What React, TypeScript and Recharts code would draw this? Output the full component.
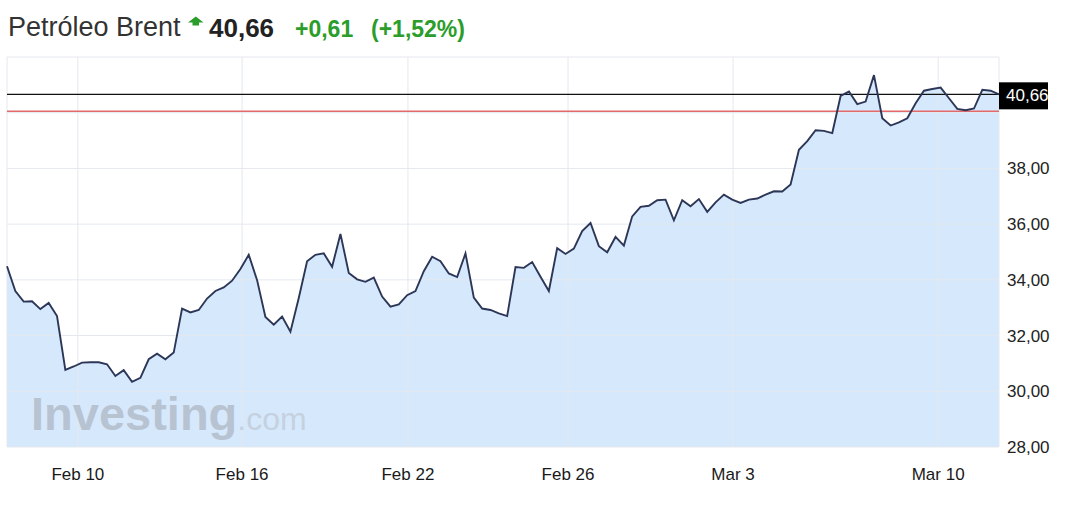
import {
  ComposedChart,
  Area,
  Line,
  XAxis,
  YAxis,
  CartesianGrid,
  ReferenceLine,
} from "recharts";

// Brent prices, ~5 samples per trading day, Feb 9 – Mar 11
const prices = [
  34.49, 33.6, 33.22, 33.23, 32.95, 33.17, 32.7, 30.77, 30.89, 31.03,
  31.04, 31.04, 30.97, 30.55, 30.76, 30.34, 30.48, 31.15, 31.35, 31.15,
  31.39, 32.97, 32.83, 32.92, 33.33, 33.6, 33.73, 33.97, 34.39, 34.9,
  33.99, 32.67, 32.39, 32.68, 32.14, 33.35, 34.67, 34.9, 34.95, 34.47,
  35.65, 34.25, 34.02, 33.93, 34.08, 33.4, 33.04, 33.12, 33.45, 33.6,
  34.31, 34.83, 34.67, 34.23, 34.1, 34.95, 33.36, 32.97, 32.92, 32.8,
  32.7, 34.46, 34.43, 34.64, 34.11, 33.6, 35.14, 34.93, 35.12, 35.75,
  36.04, 35.21, 34.99, 35.54, 35.23, 36.28, 36.62, 36.66, 36.86, 36.88,
  36.14, 36.86, 36.64, 36.9, 36.44, 36.78, 37.06, 36.88, 36.76, 36.88,
  36.92, 37.06, 37.18, 37.17, 37.42, 38.67, 38.98, 39.37, 39.35, 39.27,
  40.6, 40.76, 40.31, 40.4, 41.35, 39.8, 39.54, 39.65, 39.8, 40.34,
  40.79, 40.85, 40.9, 40.52, 40.14, 40.09, 40.15, 40.82, 40.79, 40.66,
];

const dateTicks = [8.5, 28.2, 48.1, 67.3, 87.1, 111.7];
const dateLabels = ["Feb 10", "Feb 16", "Feb 22", "Feb 26", "Mar 3", "Mar 10"];
const priceTicks = [28, 30, 32, 34, 36, 38, 40, 42];

const lastPrice = 40.66;
const prevClose = 40.05;
const change = "+0,61";
const changePct = "(+1,52%)";

const data = prices.map((v, i) => ({ i, v }));

const FONT = '"Liberation Sans", Arial, Helvetica, sans-serif';
const GREEN = "#2a9d2a";

const fmt = (v: number) => v.toFixed(2).replace(".", ",");

function PriceTag(props: any) {
  const vb = props.viewBox || {};
  const x = (vb.x ?? 0) + (vb.width ?? 0);
  const y = vb.y ?? 0;
  return (
    <g>
      <rect x={x} y={y - 12} width={49} height={27} fill="#000" />
      <text x={x + 7} y={y + 7} fill="#fff" fontSize={17} fontFamily={FONT}>
        {fmt(lastPrice)}
      </text>
    </g>
  );
}

export default function App() {
  return (
    <div
      style={{
        position: "absolute",
        left: 0,
        top: 0,
        width: 1080,
        height: 525,
        background: "#fff",
        fontFamily: FONT,
        overflow: "hidden",
      }}
    >
      <div style={{ position: "absolute", left: 0, top: 0 }}>
        <ComposedChart
          width={1080}
          height={525}
          data={data}
          margin={{ top: 57, right: 0, bottom: 0, left: 7 }}
        >
          <Area
            type="linear"
            dataKey="v"
            stroke="none"
            fill="#d6e8fc"
            fillOpacity={1}
            isAnimationActive={false}
          />
          <CartesianGrid stroke="#e4e8ee" zIndex={150} />
          <XAxis
            type="number"
            dataKey="i"
            domain={[0, prices.length - 1]}
            ticks={dateTicks}
            interval={0}
            tickFormatter={(v: number) => dateLabels[dateTicks.indexOf(v)] ?? ""}
            tickLine={false}
            axisLine={false}
            tickMargin={15}
            height={78}
            tick={{ fill: "#1a1a1a", fontSize: 17, fontFamily: FONT }}
          />
          <YAxis
            orientation="right"
            domain={[28, 42]}
            ticks={priceTicks}
            interval={0}
            width={81}
            tickLine={false}
            axisLine={false}
            tickFormatter={(v: number) => (v >= 40 ? "" : fmt(v))}
            tick={{ fill: "#222", fontSize: 17, fontFamily: FONT }}
          />
          <ReferenceLine y={prevClose} stroke="#e36a6a" strokeWidth={1.6} />
          <ReferenceLine
            y={lastPrice}
            stroke="#111"
            strokeWidth={1.3}
            label={(p: any) => <PriceTag {...p} />}
          />
          <Line
            type="linear"
            dataKey="v"
            stroke="#2c3657"
            strokeWidth={1.9}
            dot={false}
            activeDot={false}
            isAnimationActive={false}
          />
        </ComposedChart>
      </div>

      <svg
        width={1080}
        height={525}
        style={{ position: "absolute", left: 0, top: 0, pointerEvents: "none" }}
      >
        <text x={31} y={430} fontFamily={FONT}>
          <tspan fontSize={47} fontWeight={700} fill="#b8c3d2">
            Investing
          </tspan>
          <tspan fontSize={32} fill="#c5d1e0">
            .com
          </tspan>
        </text>
        <polygon
          points="195.8,16.5 203.5,22.5 199,22.5 199,25.5 192.5,25.5 192.5,22.5 188,22.5"
          fill={GREEN}
        />
      </svg>

      <span
        style={{
          position: "absolute",
          left: 8,
          top: 14.3,
          fontSize: 27,
          lineHeight: 1,
          color: "#333",
          whiteSpace: "nowrap",
        }}
      >
        Petróleo Brent
      </span>
      <span
        style={{
          position: "absolute",
          left: 209,
          top: 15.1,
          fontSize: 26,
          lineHeight: 1,
          fontWeight: 700,
          color: "#222",
        }}
      >
        {fmt(lastPrice)}
      </span>
      <span
        style={{
          position: "absolute",
          left: 295,
          top: 17.6,
          fontSize: 23,
          lineHeight: 1,
          fontWeight: 700,
          color: GREEN,
        }}
      >
        {change}
      </span>
      <span
        style={{
          position: "absolute",
          left: 371,
          top: 17.6,
          fontSize: 23,
          lineHeight: 1,
          fontWeight: 700,
          color: GREEN,
        }}
      >
        {changePct}
      </span>
    </div>
  );
}
